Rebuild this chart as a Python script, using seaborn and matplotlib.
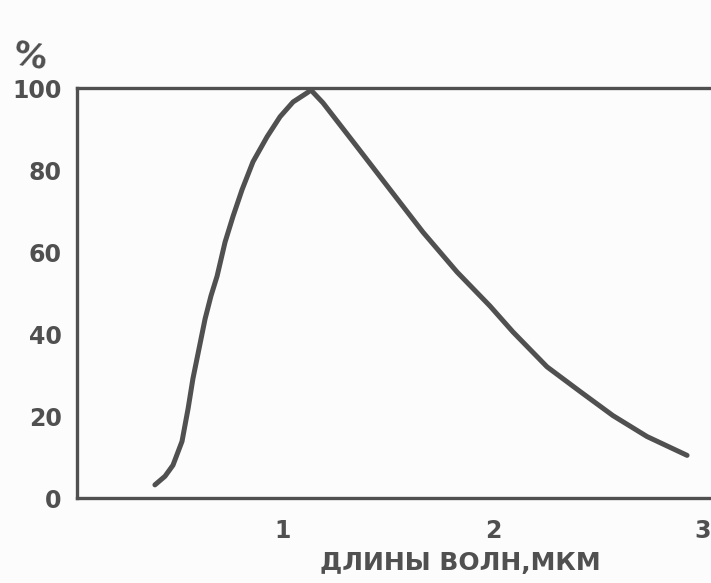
import numpy as np
import pandas as pd
import matplotlib
matplotlib.use('Agg')
import matplotlib.pyplot as plt
import seaborn as sns

# values (wavelength in um, relative %)
wavelength = [0.390, 0.438, 0.476, 0.519, 0.548, 0.571, 0.600, 0.629, 0.657, 0.686,
              0.724, 0.762, 0.805, 0.857, 0.924, 0.986, 1.048, 1.114, 1.133, 1.190,
              1.352, 1.510, 1.667, 1.829, 1.986, 2.095, 2.257, 2.414, 2.571, 2.733,
              2.924]
percent = [3.2, 5.3, 8.0, 13.8, 21.8, 29.1, 36.4, 43.7, 49.3, 54.1,
           62.4, 68.7, 75.2, 82.0, 88.1, 93.0, 96.6, 98.8, 99.5, 96.4,
           85.7, 75.2, 64.8, 55.1, 46.8, 40.5, 32.0, 26.0, 20.1, 15.0,
           10.4]
x_ticks = [1, 2, 3]
y_ticks = [0, 20, 40, 60, 80, 100]

df = pd.DataFrame({'wl': wavelength, 'pct': percent})

sns.set_style('white')
plt.rcParams['font.family'] = ['DejaVu Sans']
ink = '#505050'

fig = plt.figure(figsize=(7.11, 5.83), dpi=100, facecolor='#fcfcfc')
ax = fig.add_axes([77 / 711, 1 - 498 / 583, 1 - 77 / 711, (498 - 88) / 583])
ax.set_facecolor('#fcfcfc')

sns.lineplot(data=df, x='wl', y='pct', color=ink, linewidth=3.6, ax=ax,
             solid_capstyle='round', solid_joinstyle='round', clip_on=False)

ax.set_xlim(0.019, 3.038)
ax.set_ylim(0.5, 100)
ax.set_xticks(x_ticks)
ax.set_yticks(y_ticks)
ax.set_xticklabels([str(t) for t in x_ticks])
ax.set_yticklabels([str(t) for t in y_ticks])
ax.tick_params(axis='both', colors=ink, labelsize=17, width=2, length=6,
               direction='inout')
ax.tick_params(axis='x', pad=12)
ax.tick_params(axis='y', pad=8)
for lbl in ax.get_xticklabels() + ax.get_yticklabels():
    lbl.set_fontweight('bold')
    lbl.set_color(ink)

for side in ['left', 'bottom', 'top']:
    ax.spines[side].set_color(ink)
    ax.spines[side].set_linewidth(2.4)
ax.spines['right'].set_visible(False)

ax.set_xlabel('')
ax.set_ylabel('')

fig.text(30 / 711, 1 - 58 / 583, '%', fontsize=24, fontweight='bold', color=ink,
         ha='center', va='center', rotation=-10)
fig.text(460 / 711, 1 - 563 / 583, 'ДЛИНЫ ВОЛН,МКМ', fontsize=18, fontweight='bold',
         color=ink, ha='center', va='center')

fig.savefig('out.png', dpi=100, facecolor=fig.get_facecolor())
